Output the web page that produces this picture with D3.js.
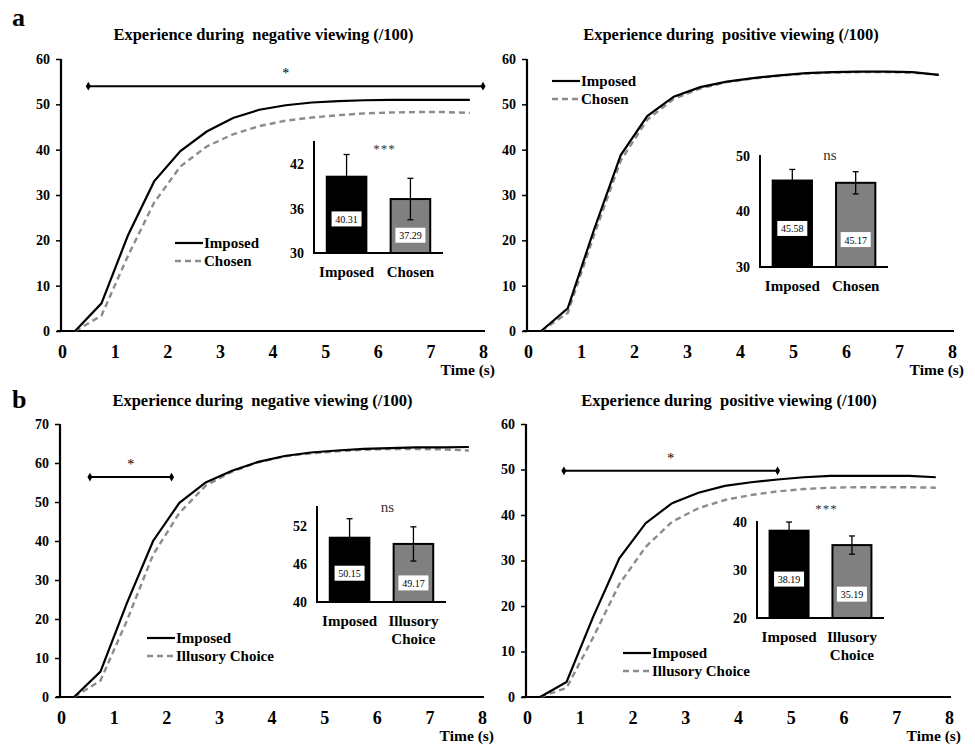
<!DOCTYPE html>
<html>
<head>
<meta charset="utf-8">
<script src="https://cdn.jsdelivr.net/npm/d3@7"></script>
<style>
  body { margin: 0; background: #fff; }
  svg text { font-family: "Liberation Serif", "DejaVu Serif", serif; fill: #000; }
  .bold { font-weight: bold; }
</style>
</head>
<body>
<div id="fig"></div>
<script>
// time points (s)
const times = [0.25, 0.75, 1.25, 1.75, 2.25, 2.75, 3.25, 3.75, 4.25, 4.75, 5.25, 5.75, 6.25, 6.75, 7.25, 7.75];

// a - negative
const aNegImposed = [0, 6.1, 21, 33, 39.7, 44, 47, 48.8, 49.8, 50.4, 50.7, 50.9, 51, 51, 51, 51];
const aNegChosen  = [0, 3.4, 16.5, 28.3, 36.3, 40.7, 43.4, 45.2, 46.4, 47.1, 47.6, 48, 48.2, 48.3, 48.3, 48.1];
// a - positive
const aPosImposed = [0, 5, 22.5, 38.8, 47.4, 51.7, 53.8, 55, 55.8, 56.4, 56.9, 57.1, 57.2, 57.2, 57.1, 56.5];
const aPosChosen  = [0, 4, 21.3, 37.6, 46.6, 51.2, 53.5, 54.9, 55.7, 56.3, 56.8, 57.0, 57.1, 57.1, 57.0, 56.5];
// b - negative
const bNegImposed  = [0, 6.5, 24, 40, 49.8, 55, 58, 60.3, 61.8, 62.7, 63.2, 63.6, 63.8, 64, 64, 64.1];
const bNegIllusory = [0, 4.2, 19.5, 36.5, 47.2, 54.2, 57.8, 60.2, 61.7, 62.5, 63, 63.4, 63.6, 63.6, 63.5, 63.2];
// b - positive
const bPosImposed  = [0, 3.3, 17.5, 30.5, 38.2, 42.6, 44.9, 46.4, 47.2, 47.8, 48.3, 48.6, 48.6, 48.6, 48.6, 48.3];
const bPosIllusory = [0, 2, 13, 24.8, 33, 38.5, 41.5, 43.3, 44.4, 45.2, 45.7, 46, 46.1, 46.1, 46.1, 46];

// significance bars [start, end, level]
const aNegSig = [0.5, 8.0, 54];
const bNegSig = [0.55, 2.1, 56.4];
const bPosSig = [0.7, 4.75, 49.7];

// inset bar values and errors
const aNegBars = [40.31, 37.29], aNegErr = [3.0, 2.8];
const aPosBars = [45.58, 45.17], aPosErr = [2.0, 2.0];
const bNegBars = [50.15, 49.17], bNegErr = [3.0, 2.7];
const bPosBars = [38.19, 35.19], bPosErr = [1.8, 1.9];

const catsA = ["Imposed", "Chosen"];
const catsB = ["Imposed", "Illusory Choice"];

const W = 975, H = 745;
const svg = d3.select("#fig").append("svg")
    .attr("width", W).attr("height", H)
    .style("background", "#fff");

svg.append("rect").attr("width", W).attr("height", H).attr("fill", "#fff");

// panel letters
svg.append("text").attr("class", "bold").attr("x", 12).attr("y", 26)
    .style("font-size", "26px").text("a");
svg.append("text").attr("class", "bold").attr("x", 12).attr("y", 408)
    .style("font-size", "26px").text("b");

const panels = [
  { title: "Experience during  negative viewing (/100)", titleY: 40,
    x0: 62, x8: 483, yTop: 59, yBase: 331, yMax: 60, yTicks: d3.range(0, 61, 10),
    s1: aNegImposed, s2: aNegChosen, names: ["Imposed", "Chosen"], sig: aNegSig,
    leg: [175, 243],
    inset: { left: 314, right: 443, top: 142, base: 253, dom: [30, 45], ticks: [30, 36, 42],
             vals: aNegBars, err: aNegErr, cats: catsA, mark: "***", markY: 153 } },
  { title: "Experience during  positive viewing (/100)", titleY: 40,
    x0: 528, x8: 952, yTop: 59, yBase: 331, yMax: 60, yTicks: d3.range(0, 61, 10),
    s1: aPosImposed, s2: aPosChosen, names: ["Imposed", "Chosen"], sig: null,
    leg: [552, 81],
    inset: { left: 760, right: 888, top: 156, base: 267, dom: [30, 50], ticks: [30, 40, 50],
             vals: aPosBars, err: aPosErr, cats: catsA, mark: "ns", markY: 160 } },
  { title: "Experience during  negative viewing (/100)", titleY: 406,
    x0: 61, x8: 482, yTop: 424, yBase: 697, yMax: 70, yTicks: d3.range(0, 71, 10),
    s1: bNegImposed, s2: bNegIllusory, names: ["Imposed", "Illusory Choice"], sig: bNegSig,
    leg: [147, 638],
    inset: { left: 317, right: 446, top: 507, base: 602, dom: [40, 55], ticks: [40, 46, 52],
             vals: bNegBars, err: bNegErr, cats: catsB, mark: "ns", markY: 512 } },
  { title: "Experience during  positive viewing (/100)", titleY: 406,
    x0: 527, x8: 949, yTop: 424, yBase: 697, yMax: 60, yTicks: d3.range(0, 61, 10),
    s1: bPosImposed, s2: bPosIllusory, names: ["Imposed", "Illusory Choice"], sig: bPosSig,
    leg: [623, 653],
    inset: { left: 757, right: 884, top: 522, base: 618, dom: [20, 40], ticks: [20, 30, 40],
             vals: bPosBars, err: bPosErr, cats: catsB, mark: "***", markY: 513 } }
];

panels.forEach(p => {
  const g = svg.append("g");
  const x = d3.scaleLinear().domain([0, 8]).range([p.x0, p.x8]);
  const y = d3.scaleLinear().domain([0, p.yMax]).range([p.yBase, p.yTop]);

  // title
  g.append("text").attr("class", "bold")
      .attr("x", (p.x0 + p.x8) / 2 - 9).attr("y", p.titleY)
      .attr("text-anchor", "middle").style("font-size", "16.5px")
      .style("white-space", "pre")
      .text(p.title);

  // axes
  const yAxis = g.append("g").attr("transform", `translate(${p.x0 - 1},0)`)
      .call(d3.axisLeft(y).tickValues(p.yTicks).tickSize(5).tickPadding(6));
  yAxis.select(".domain").attr("stroke-width", 2.2).attr("d", `M0,${p.yBase}V${p.yTop}`);
  yAxis.selectAll(".tick line").attr("stroke-width", 1.5);
  yAxis.selectAll("text").attr("class", "bold").style("font-size", "14px").attr("fill", "#000");

  const xAxis = g.append("g").attr("transform", `translate(0,${p.yBase})`)
      .call(d3.axisBottom(x).ticks(8).tickSize(0).tickPadding(14));
  xAxis.select(".domain").attr("stroke-width", 2.2).attr("d", `M${p.x0 - 5},0H${p.x8 + 2}`);
  xAxis.selectAll("text").attr("class", "bold").style("font-size", "18px").attr("fill", "#000");

  g.append("text").attr("class", "bold")
      .attr("x", p.x8 + 12).attr("y", p.yBase + 44)
      .attr("text-anchor", "end").style("font-size", "15.5px").text("Time (s)");

  // lines
  const line = d3.line().x((d, i) => x(times[i])).y(d => y(d));
  g.append("path").datum(p.s2).attr("d", line)
      .attr("fill", "none").attr("stroke", "#8c8c8c").attr("stroke-width", 2.4)
      .attr("stroke-dasharray", "6,4");
  g.append("path").datum(p.s1).attr("d", line)
      .attr("fill", "none").attr("stroke", "#000").attr("stroke-width", 2.2);

  // significance bar
  if (p.sig) {
    const [s0, s1, lv] = p.sig;
    g.append("line").attr("x1", x(s0)).attr("x2", x(s1))
        .attr("y1", y(lv)).attr("y2", y(lv))
        .attr("stroke", "#000").attr("stroke-width", 2);
    [s0, s1].forEach(t => {
      g.append("path").attr("d", d3.symbol(d3.symbolDiamond, 22)())
          .attr("transform", `translate(${x(t)},${y(lv)})`).attr("fill", "#000");
    });
    g.append("text").attr("x", (x(s0) + x(s1)) / 2).attr("y", y(lv) - 8)
        .attr("text-anchor", "middle").style("font-size", "14px").text("*");
  }

  // legend
  const [lx, ly] = p.leg;
  [0, 1].forEach(i => {
    const yy = ly + i * 18;
    g.append("line").attr("x1", lx).attr("x2", lx + 28).attr("y1", yy).attr("y2", yy)
        .attr("stroke", i ? "#8c8c8c" : "#000").attr("stroke-width", i ? 2.4 : 2.2)
        .attr("stroke-dasharray", i ? "6,4" : null);
    g.append("text").attr("class", "bold").attr("x", lx + 29).attr("y", yy + 5)
        .style("font-size", "15px").text(p.names[i]);
  });

  // inset bar chart
  const ins = p.inset;
  const bx = d3.scaleBand().domain(ins.cats).range([ins.left, ins.right])
      .paddingInner(0.38).paddingOuter(0.2);
  const by = d3.scaleLinear().domain(ins.dom).range([ins.base, ins.top]);

  const ig = g.append("g");
  ig.selectAll(".bar").data(ins.vals).join("rect")
      .attr("class", "bar")
      .attr("x", (d, i) => bx(ins.cats[i]))
      .attr("y", d => by(d))
      .attr("width", bx.bandwidth())
      .attr("height", d => ins.base - by(d))
      .attr("fill", (d, i) => i ? "#808080" : "#000")
      .attr("stroke", "#000").attr("stroke-width", 2);

  // error bars
  ins.vals.forEach((v, i) => {
    const cx = bx(ins.cats[i]) + bx.bandwidth() / 2;
    const e = ins.err[i];
    ig.append("line").attr("x1", cx).attr("x2", cx)
        .attr("y1", by(v - e)).attr("y2", by(v + e))
        .attr("stroke", "#000").attr("stroke-width", 1.3);
    [v - e, v + e].forEach(w => {
      ig.append("line").attr("x1", cx - 3).attr("x2", cx + 3)
          .attr("y1", by(w)).attr("y2", by(w))
          .attr("stroke", "#000").attr("stroke-width", 1.3);
    });
    // value label
    const ly2 = by(v) + (ins.base - by(v)) * (i ? 0.68 : 0.56);
    ig.append("rect").attr("x", cx - 15).attr("y", ly2 - 8)
        .attr("width", 30).attr("height", 15).attr("fill", "#fff");
    ig.append("text").attr("x", cx).attr("y", ly2 + 3.5)
        .attr("text-anchor", "middle").style("font-size", "10px")
        .text(v.toFixed(2));
  });

  const iyAxis = ig.append("g").attr("transform", `translate(${ins.left},0)`)
      .call(d3.axisLeft(by).tickValues(ins.ticks).tickSize(0).tickPadding(10));
  iyAxis.select(".domain").attr("stroke-width", 2).attr("d", `M0,${ins.base}V${ins.top - 1}`);
  iyAxis.selectAll("text").attr("class", "bold").style("font-size", "14px").attr("fill", "#000");

  ig.append("line").attr("x1", ins.left - 1).attr("x2", ins.right)
      .attr("y1", ins.base).attr("y2", ins.base)
      .attr("stroke", "#000").attr("stroke-width", 2);

  // category labels
  ins.cats.forEach(c => {
    const cx = bx(c) + bx.bandwidth() / 2;
    const parts = c.split(" ");
    parts.forEach((t, k) => {
      ig.append("text").attr("class", "bold")
          .attr("x", cx).attr("y", ins.base + 24 + k * 18)
          .attr("text-anchor", "middle").style("font-size", "15px").text(t);
    });
  });

  ig.append("text")
      .attr("x", (ins.left + ins.right) / 2 + 6).attr("y", ins.markY)
      .attr("text-anchor", "middle")
      .style("font-size", ins.mark === "ns" ? "15px" : "13px")
      .style("letter-spacing", ins.mark === "ns" ? "0px" : "1px")
      .style("fill", "#333")
      .text(ins.mark);
});
</script>
</body>
</html>
